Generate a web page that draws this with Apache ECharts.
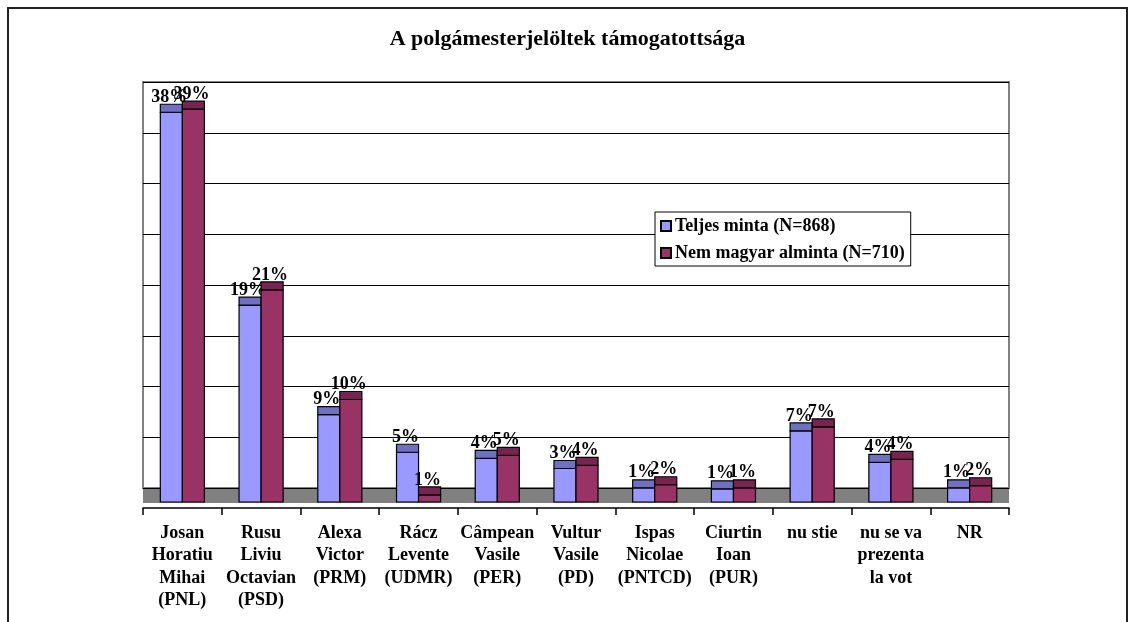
<!DOCTYPE html>
<html>
<head>
<meta charset="utf-8">
<script src="https://cdn.jsdelivr.net/npm/echarts@6/dist/echarts.min.js"></script>
<style>
  html, body { margin: 0; padding: 0; background: #fff; }
  #chart { width: 1135px; height: 622px; }
</style>
</head>
<body>
<div id="chart"></div>
<script>
// data (percent)
var categories = [
  'Josan\nHoratiu\nMihai\n(PNL)',
  'Rusu\nLiviu\nOctavian\n(PSD)',
  'Alexa\nVictor\n(PRM)',
  'Rácz\nLevente\n(UDMR)',
  'Câmpean\nVasile\n(PER)',
  'Vultur\nVasile\n(PD)',
  'Ispas\nNicolae\n(PNTCD)',
  'Ciurtin\nIoan\n(PUR)',
  'nu stie',
  'nu se va\nprezenta\nla vot',
  'NR'
]
var seriesNames = ['Teljes minta (N=868)', 'Nem magyar alminta (N=710)']
var teljes = [38.4, 19.4, 8.6, 4.9, 4.3, 3.3, 1.4, 1.3, 7.0, 3.9, 1.4]
var nemMagyar = [38.7, 20.9, 10.1, 0.7, 4.6, 3.6, 1.7, 1.4, 7.4, 4.2, 1.6]
var yTicks = [0, 5, 10, 15, 20, 25, 30, 35, 40]

var FONT = "'Liberation Serif', 'Times New Roman', serif"
var CAP = 8 // height of the darker top face

function barRenderer(idx, fill, capFill) {
  return function (params, api) {
    var cat = api.value(0)
    var val = api.value(1)
    var top = api.coord([cat, val])
    var base = api.coord([cat, 0])
    var band = api.size([1, 0])[0]
    var w = band * 0.28
    var x = top[0] - w + idx * w
    var h = base[1] - top[1]
    return {
      type: 'group',
      children: [
        {
          type: 'rect',
          shape: { x: x, y: top[1], width: w, height: h },
          style: { fill: fill, stroke: '#000', lineWidth: 1.2 }
        },
        {
          type: 'rect',
          shape: { x: x, y: top[1] - CAP, width: w, height: CAP },
          style: { fill: capFill, stroke: '#000', lineWidth: 1.2 }
        },
        {
          type: 'text',
          z2: 100,
          style: {
            x: x + w / 2 - 2,
            y: top[1] - CAP + 2,
            text: Math.round(val) + '%',
            align: 'center',
            verticalAlign: 'bottom',
            fontFamily: FONT,
            fontWeight: 'bold',
            fontSize: 18,
            fill: '#000'
          }
        }
      ]
    }
  }
}

function toData(arr) {
  return arr.map(function (v, i) { return [i, v] })
}

var chart = echarts.init(document.getElementById('chart'))
chart.setOption({
  backgroundColor: '#fff',
  animation: false,
  title: {
    text: 'A polgámesterjelöltek támogatottsága',
    left: 'center',
    top: 23,
    textStyle: { fontFamily: FONT, fontWeight: 'bold', fontSize: 22, color: '#000' }
  },
  graphic: [{
    type: 'rect',
    shape: { x: 8, y: 8, width: 1119, height: 700 },
    style: { fill: 'none', stroke: '#222', lineWidth: 2 },
    silent: true
  }],
  legend: {
    orient: 'vertical',
    left: 655,
    top: 212,
    backgroundColor: '#fff',
    borderColor: '#000',
    borderWidth: 1,
    padding: [5, 6, 4, 5],
    itemWidth: 10,
    itemHeight: 10,
    itemGap: 9,
    icon: 'rect',
    data: seriesNames,
    textStyle: { fontFamily: FONT, fontWeight: 'bold', fontSize: 18, color: '#000', padding: [0, 0, 0, -1] }
  },
  grid: [
    // back wall
    { left: 143, right: 126, top: 82, bottom: 134, show: true, backgroundColor: '#fff', borderColor: '#808080', borderWidth: 2 },
    // bars
    { left: 143, right: 126, top: 96, bottom: 120 },
    // floor
    { left: 143, right: 126, top: 488, bottom: 119, show: true, backgroundColor: '#808080', borderWidth: 0 },
    // category axis, a little below the floor
    { left: 143, right: 126, top: 96, bottom: 114 }
  ],
  xAxis: [
    { gridIndex: 0, type: 'category', data: categories, show: false },
    { gridIndex: 1, type: 'category', data: categories, show: false },
    { gridIndex: 2, type: 'category', data: categories, show: false },
    {
      gridIndex: 3,
      type: 'category',
      data: categories,
      axisLine: { show: true, lineStyle: { color: '#000', width: 1.5 } },
      axisTick: { show: true, length: 7, alignWithLabel: false, lineStyle: { color: '#000', width: 1.5 } },
      axisLabel: {
        interval: 0,
        margin: 14,
        fontFamily: FONT,
        fontWeight: 'bold',
        fontSize: 18,
        lineHeight: 22.5,
        color: '#000'
      }
    }
  ],
  yAxis: [
    {
      gridIndex: 0,
      type: 'value',
      min: yTicks[0],
      max: yTicks[yTicks.length - 1],
      interval: 5,
      axisLine: { show: false },
      axisTick: { show: false },
      axisLabel: { show: false },
      splitLine: { show: true, lineStyle: { color: '#000', width: 1 } }
    },
    { gridIndex: 1, type: 'value', min: yTicks[0], max: yTicks[yTicks.length - 1], show: false, splitLine: { show: false } },
    { gridIndex: 2, type: 'value', show: false, splitLine: { show: false } },
    { gridIndex: 3, type: 'value', show: false, splitLine: { show: false } }
  ],
  series: [
    {
      name: seriesNames[0],
      type: 'custom',
      xAxisIndex: 1,
      yAxisIndex: 1,
      clip: false,
      z: 5,
      itemStyle: { color: '#9999FF', borderColor: '#000', borderWidth: 1 },
      renderItem: barRenderer(0, '#9999FF', '#7070C0'),
      data: toData(teljes)
    },
    {
      name: seriesNames[1],
      type: 'custom',
      xAxisIndex: 1,
      yAxisIndex: 1,
      clip: false,
      z: 6,
      itemStyle: { color: '#993366', borderColor: '#000', borderWidth: 1 },
      renderItem: barRenderer(1, '#993366', '#77244F'),
      data: toData(nemMagyar)
    }
  ]
})
</script>
</body>
</html>
